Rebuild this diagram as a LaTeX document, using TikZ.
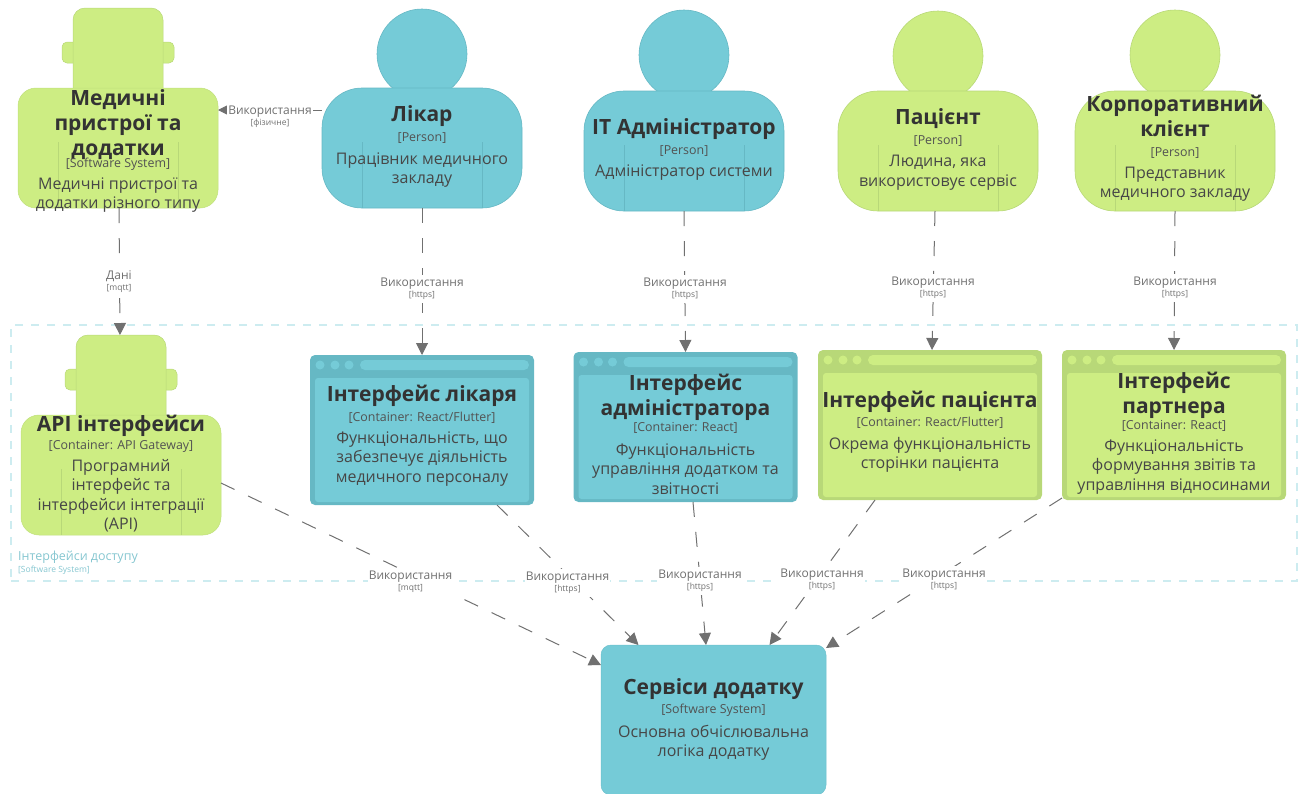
\documentclass[tikz,border=0pt]{standalone}
\usepackage{fontspec}
\setmainfont{Open Sans}
\usetikzlibrary{arrows.meta}
\definecolor{tealfill}{HTML}{75CBD7}
\definecolor{tealline}{HTML}{66B8C4}
\definecolor{lime}{HTML}{CDED83}
\definecolor{limeline}{HTML}{B8D878}
\definecolor{ink}{HTML}{333333}
\definecolor{rel}{HTML}{707070}
\definecolor{bound}{HTML}{CDECF0}
\tikzset{
 x=1pt,y=-1pt,
 ttl/.style={font=\fontsize{21}{25}\selectfont\bfseries,text=ink,inner sep=0pt,align=center,yshift=-2pt},
 tag/.style={font=\fontsize{12.4}{15}\selectfont,text=ink!85!white,inner sep=0pt,align=center,yshift=-1pt},
 dsc/.style={font=\fontsize{16}{19.5}\selectfont,text=ink!90!white,inner sep=0pt,align=center,yshift=-2pt},
 rellab/.style={fill=white,inner xsep=1pt,inner ysep=3pt,align=center,text=rel,font=\fontsize{12}{13}\selectfont,yshift=-1pt},
 relline/.style={draw=rel,line width=1pt,dash pattern=on 15pt off 15pt,-{Triangle[length=12pt,width=12pt,fill=rel]}},
 boxy/.style={inner sep=0pt,outer sep=0pt,rectangle},
}
\newcommand{\sm}[1]{{\fontsize{8.5}{10}\selectfont #1}}
% name, cx, head cy, body top, fill, line
\newcommand{\persona}[6]{%
 \fill[#5,draw=#6,line width=.6pt] (#2,#3) circle (45);
 \node[boxy,fill=#5,draw=#6,line width=.6pt,rounded corners=40pt,minimum width=200pt,minimum height=120pt] (#1) at (#2,#4+60) {};
 \draw[#6,line width=.6pt] ([xshift=40pt]#1.south west) -- ++(0,-66) ([xshift=-40pt]#1.south east) -- ++(0,-66);
}
% name, cx, head top, body top
\newcommand{\device}[4]{%
 \node[boxy,fill=lime,draw=limeline,line width=.5pt,rounded corners=5pt,minimum width=112pt,minimum height=21pt] (#1ears) at (#2,#3+44.5) {};
 \node[boxy,fill=lime,draw=limeline,line width=.5pt,rounded corners=12pt,minimum width=90pt,minimum height={(#4-#3+14)*1pt}] (#1head) at (#2,{(#3+#4+14)/2}) {};
 \node[boxy,fill=lime,draw=limeline!60!lime,line width=.5pt,rounded corners=18pt,minimum width=200pt,minimum height=120pt] (#1) at (#2,#4+60) {};
 \draw[limeline,line width=.6pt] ([xshift=40pt]#1.south west) -- ++(0,-66) ([xshift=-40pt]#1.south east) -- ++(0,-66);
}
% name, cx, cy, fill, frame
\newcommand{\webapp}[5]{%
 \node[boxy,fill=#5,rounded corners=5pt,minimum width=224pt,minimum height=150pt] (#1) at (#2,#3) {};
 \node[boxy,fill=#4,rounded corners=3pt,minimum width=214pt,minimum height=124pt] (#1inner) at (#2,#3+10) {};
 \fill[#4] (#2-102,#3-65) circle (4.5) (#2-87,#3-65) circle (4.5) (#2-73,#3-65) circle (4.5);
 \node[boxy,fill=#4,rounded corners=5pt,minimum width=169pt,minimum height=10pt] (#1bar) at (#2+22.5,#3-65) {};
}
\begin{document}
\begin{tikzpicture}
\useasboundingbox (0,0) rectangle (1300,793);
% boundary
\node[boxy,draw=bound,line width=1.1pt,dash pattern=on 8pt off 8pt,minimum width=1286pt,minimum height=256pt] (bnd) at (654,453) {};
\node[anchor=west,inner sep=0pt,text=tealline!80!white,font=\fontsize{12.5}{15}\selectfont] (bndt) at (18,557) {Інтерфейси доступу};
\node[anchor=west,inner sep=0pt,text=tealline!80!white,font=\fontsize{8.5}{10}\selectfont] (bnds) at (18,570) {[Software System]};
% shapes
\device{med}{118}{8}{88}
\persona{lik}{422}{54}{88}{tealfill}{tealline}
\persona{adm}{684}{55}{91}{tealfill}{tealline}
\persona{pac}{938}{56}{91}{lime}{limeline}
\persona{kor}{1175}{55}{91}{lime}{limeline}
\device{api}{121}{335}{415}
\webapp{ilik}{422}{430}{tealfill}{tealline}
\webapp{iadm}{685.5}{427}{tealfill}{tealline}
\webapp{ipac}{930}{425}{lime}{limeline}
\webapp{ipar}{1174}{425}{lime}{limeline}
\node[boxy,fill=tealfill,draw=tealline!60!tealfill,line width=.5pt,rounded corners=10pt,minimum width=225pt,minimum height=150pt] (svc) at (713.5,720) {};
% connectors
\draw[relline] ([yshift=38pt]lik.west) -- ([yshift=38pt]med.east);
\draw[relline] ([xshift=1pt]med.south) -- ([xshift=-1pt]apihead.north);
\draw[relline] (lik.south) -- (ilik.north);
\draw[relline] (adm.south) -- (iadm.north);
\draw[relline] ([xshift=-3pt]pac.south) -- ([xshift=2pt]ipac.north);
\draw[relline] (kor.south) -- (ipar.north);
\draw[relline] ([yshift=-8pt]api.east) -- ([yshift=55pt]svc.west);
\draw[relline] ([xshift=75pt]ilik.south) -- ([xshift=-75pt]svc.north);
\draw[relline] ([xshift=7.5pt]iadm.south) -- ([xshift=-7.5pt]svc.north);
\draw[relline] ([xshift=-55pt]ipac.south) -- ([xshift=56pt]svc.north);
\draw[relline] ([yshift=2pt]ipar.south west) -- ([yshift=-3pt]svc.north east);
% relation labels
\node[rellab] (l1) at (270,115.5) {Використання\\[-2pt]\sm{[фізичне]}};
\node[rellab] (l2) at (119,281) {Дані\\[-2pt]\sm{[mqtt]}};
\node[rellab] (l3) at (422,288) {Використання\\[-2pt]\sm{[https]}};
\node[rellab] (l4) at (685,288) {Використання\\[-2pt]\sm{[https]}};
\node[rellab] (l5) at (933,287) {Використання\\[-2pt]\sm{[https]}};
\node[rellab] (l6) at (1175,287) {Використання\\[-2pt]\sm{[https]}};
\node[rellab] (l7) at (410.5,581) {Використання\\[-2pt]\sm{[mqtt]}};
\node[rellab] (l8) at (567.5,582) {Використання\\[-2pt]\sm{[https]}};
\node[rellab] (l9) at (700,580) {Використання\\[-2pt]\sm{[https]}};
\node[rellab] (l10) at (822,579) {Використання\\[-2pt]\sm{[https]}};
\node[rellab] (l11) at (944,579) {Використання\\[-2pt]\sm{[https]}};
% text
\node[ttl] (t1) at (118,123) {Медичні\\пристрої та\\додатки};
\node[tag] (g1) at (118,163) {[Software System]};
\node[dsc] (d1) at (118,193) {Медичні пристрої та\\додатки різного типу};
\node[ttl] (t2) at (422,114) {Лікар};
\node[tag] (g2) at (422,137) {[Person]};
\node[dsc] (d2) at (422,168) {Працівник медичного\\закладу};
\node[ttl] (t3) at (684,127) {IT Адміністратор};
\node[tag] (g3) at (684,150) {[Person]};
\node[dsc] (d3) at (684,171) {Адміністратор системи};
\node[ttl] (t4) at (938,117) {Пацієнт};
\node[tag] (g4) at (938,140) {[Person]};
\node[dsc] (d4) at (938,170.5) {Людина, яка\\використовує сервіс};
\node[ttl] (t5) at (1175,113.5) {Корпоративний\\клієнт};
\node[tag] (g5) at (1175,152.5) {[Person]};
\node[dsc] (d5) at (1175,182) {Представник\\медичного закладу};
\node[ttl] (t6) at (121,424) {API інтерфейси};
\node[tag] (g6) at (121,445) {[Container: API Gateway]};
\node[dsc] (d6) at (121,493.5) {Програмний\\інтерфейс та\\інтерфейси інтеграції\\(API)};
\node[ttl] (t7) at (422,394) {Інтерфейс лікаря};
\node[tag] (g7) at (422,417) {[Container: React/Flutter]};
\node[dsc] (d7) at (422,457) {Функціональність, що\\забезпечує діяльність\\медичного персоналу};
\node[ttl] (t8) at (685.5,395) {Інтерфейс\\адміністратора};
\node[tag] (g8) at (685.5,427) {[Container: React]};
\node[dsc] (d8) at (685.5,467) {Функціональність\\управління додатком та\\звітності};
\node[ttl] (t9) at (930,400) {Інтерфейс пацієнта};
\node[tag] (g9) at (930,422) {[Container: React/Flutter]};
\node[dsc] (d9) at (930,453) {Окрема функціональність\\сторінки пацієнта};
\node[ttl] (t10) at (1174,393) {Інтерфейс\\партнера};
\node[tag] (g10) at (1174,425) {[Container: React]};
\node[dsc] (d10) at (1174,465) {Функціональність\\формування звітів та\\управління відносинами};
\node[ttl] (t11) at (713.5,687) {Сервіси додатку};
\node[tag] (g11) at (713.5,709.5) {[Software System]};
\node[dsc] (d11) at (713.5,741) {Основна обчіслювальна\\логіка додатку};
\end{tikzpicture}
\end{document}
